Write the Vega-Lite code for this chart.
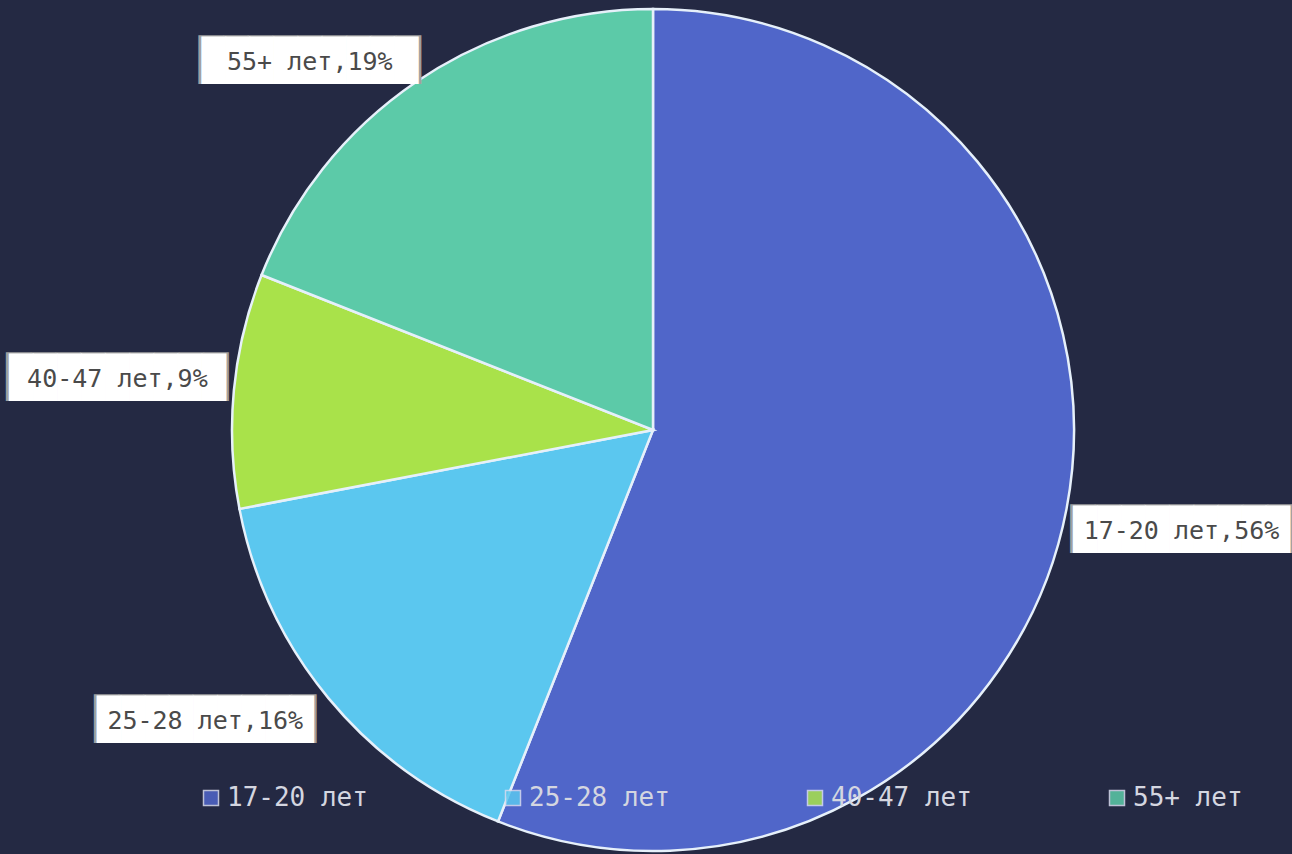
{
  "$schema": "https://vega.github.io/schema/vega-lite/v6.json",
  "width": 1278,
  "height": 848,
  "autosize": "none",
  "padding": {"left": 14, "top": 6, "right": 0, "bottom": 0},
  "background": "#242943",
  "config": {"view": {"stroke": null}},
  "data": {
    "values": [
      {"group": "17-20 лет", "pct": 56},
      {"group": "25-28 лет", "pct": 16},
      {"group": "40-47 лет", "pct": 9},
      {"group": "55+ лет", "pct": 19}
    ]
  },
  "encoding": {
    "theta": {"field": "pct", "type": "quantitative", "stack": true},
    "color": {
      "field": "group",
      "type": "nominal",
      "scale": {
        "domain": ["17-20 лет", "25-28 лет", "40-47 лет", "55+ лет"],
        "range": ["#5066c9", "#5bc7ef", "#a9e24a", "#5ccaa8"]
      },
      "legend": {
        "title": null,
        "orient": "none",
        "direction": "horizontal",
        "columns": 4,
        "legendX": 184,
        "legendY": 779,
        "padding": 0,
        "columnPadding": 132,
        "symbolType": "square",
        "symbolSize": 225,
        "symbolStrokeColor": "#d8dcf0",
        "symbolStrokeWidth": 1.5,
        "symbolOpacity": 0.85,
        "labelFont": "DejaVu Sans Mono",
        "labelFontSize": 26,
        "labelColor": "#d4d6e0",
        "labelOffset": 3,
        "labelLimit": 300
      }
    }
  },
  "layer": [
    {
      "mark": {"type": "arc", "outerRadius": 421, "stroke": "#e6f0fa", "strokeWidth": 2.5}
    },
    {
      "mark": {"type": "text", "radius": 538, "radiusOffset": {"expr": "datum.group == '55+ лет' ? -35 : (datum.group == '25-28 лет' ? -4 : 0)"}, "thetaOffset": {"expr": "datum.group == '55+ лет' ? -0.154 : (datum.group == '25-28 лет' ? 0.115 : 0)"}, "font": "DejaVu Sans Mono", "fontSize": 41, "baseline": "middle", "align": "center", "text": "█████████"},
      "encoding": {"color": {"value": "#a0a0a0"}}
    },
    {
      "mark": {"type": "text", "radius": 538, "radiusOffset": {"expr": "datum.group == '55+ лет' ? -35 : (datum.group == '25-28 лет' ? -4 : 0)"}, "thetaOffset": {"expr": "datum.group == '55+ лет' ? -0.154 : (datum.group == '25-28 лет' ? 0.115 : 0)"}, "font": "DejaVu Sans Mono", "fontSize": 40, "baseline": "middle", "align": "center", "text": "█████████"},
      "encoding": {"color": {"value": "#ffffff"}}
    },
    {
      "mark": {"type": "text", "radius": 538, "radiusOffset": {"expr": "datum.group == '55+ лет' ? -35 : (datum.group == '25-28 лет' ? -4 : 0)"}, "thetaOffset": {"expr": "datum.group == '55+ лет' ? -0.154 : (datum.group == '25-28 лет' ? 0.115 : 0)"}, "font": "DejaVu Sans Mono", "fontSize": 25, "baseline": "middle", "align": "center"},
      "encoding": {
        "text": {"field": "label"},
        "color": {"value": "#4a4a4a"}
      },
      "transform": [{"calculate": "datum.group + ',' + datum.pct + '%'", "as": "label"}]
    }
  ]
}
